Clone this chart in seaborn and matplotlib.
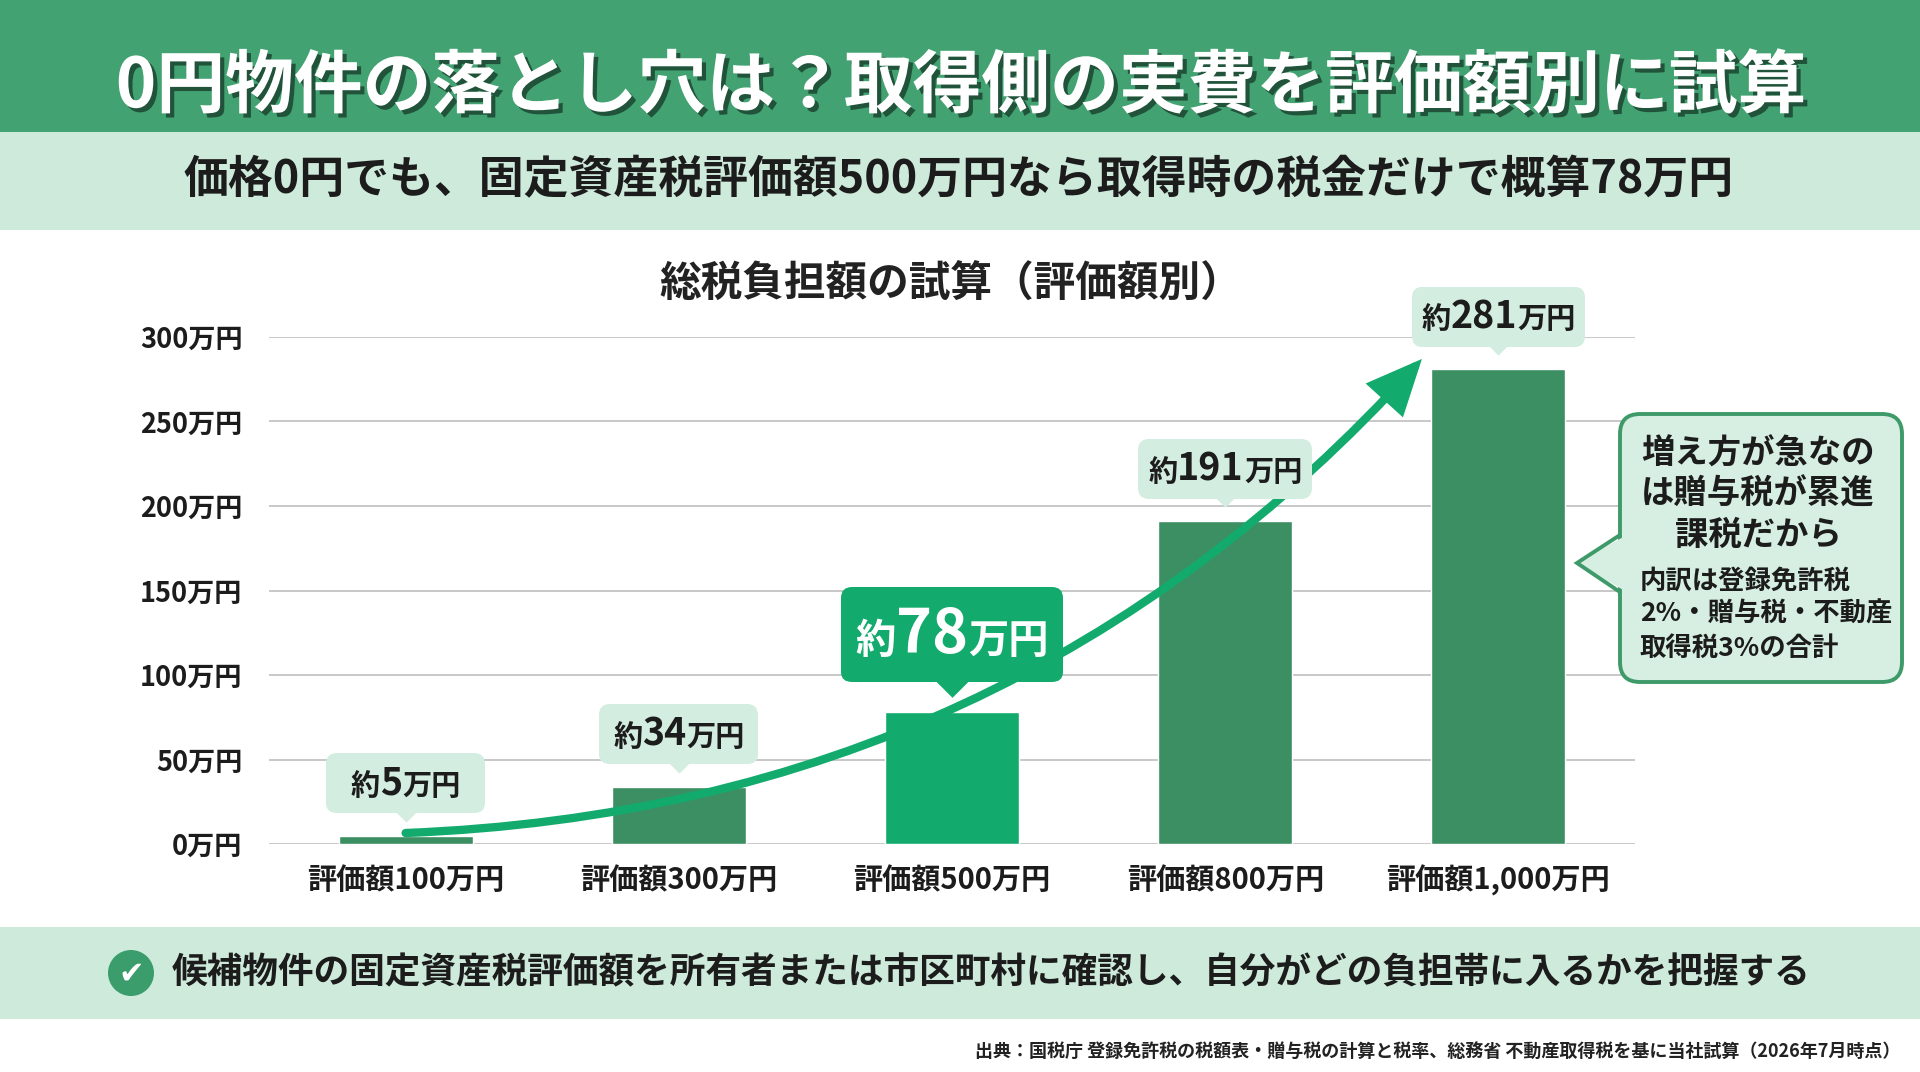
import numpy as np
import pandas as pd
import matplotlib
matplotlib.use('Agg')
import matplotlib.pyplot as plt
import seaborn as sns
from matplotlib.patches import FancyBboxPatch, Rectangle, Polygon, Circle, FancyArrowPatch
from matplotlib.offsetbox import TextArea, HPacker, VPacker, AnnotationBbox, DrawingArea
from matplotlib.transforms import offset_copy
import matplotlib.patheffects as pe

# ---------------- data ----------------
categories = ['評価額100万円', '評価額300万円', '評価額500万円', '評価額800万円', '評価額1,000万円']
values = [5, 34, 78, 191, 281]
value_labels = ['5', '34', '78', '191', '281']
highlight_index = 2
yticks = [0, 50, 100, 150, 200, 250, 300]
ytick_labels = ['0万円', '50万円', '100万円', '150万円', '200万円', '250万円', '300万円']

title = '0円物件の落とし穴は？取得側の実費を評価額別に試算'
subtitle = '価格0円でも、固定資産税評価額500万円なら取得時の税金だけで概算78万円'
chart_title = '総税負担額の試算（評価額別）'
callout_head = ['増え方が急なの', 'は贈与税が累進', '課税だから']
callout_body = ['内訳は登録免許税', '2%・贈与税・不動産', '取得税3%の合計']
action_text = '候補物件の固定資産税評価額を所有者または市区町村に確認し、自分がどの負担帯に入るかを把握する'
source_text = '出典：国税庁 登録免許税の税額表・贈与税の計算と税率、総務省 不動産取得税を基に当社試算（2026年7月時点）'

# ---------------- style ----------------
DARK = '#3c8f62'
BRIGHT = '#13ab6d'
MINT = '#d3ede0'
BAND = '#43a272'
LBAND = '#cdeadb'
BORDER = '#3f9a69'
TXT = '#1c1c1c'

sns.set_theme(style='white')
plt.rcParams['font.family'] = ['Noto Sans CJK JP', 'DejaVu Sans']

fig = plt.figure(figsize=(19.2, 10.72), dpi=100)
fig.patch.set_facecolor('white')

# background layer in pixel coordinates
bg = fig.add_axes([0, 0, 1, 1], zorder=0)
bg.set_xlim(0, 1920)
bg.set_ylim(1072, 0)
bg.axis('off')
bg.add_patch(Rectangle((0, 0), 1920, 132, color=BAND, lw=0))
bg.add_patch(Rectangle((0, 132), 1920, 98, color=LBAND, lw=0))
bg.add_patch(Rectangle((0, 927), 1920, 92, color=LBAND, lw=0))

bg.text(961, 87, title, ha='center', va='center', fontsize=49.5, weight='bold', color='white',
        path_effects=[pe.SimplePatchShadow(offset=(3, -3), shadow_rgbFace='#1a4630', alpha=0.85), pe.Normal()])
bg.text(959, 180, subtitle, ha='center', va='center', fontsize=32.3, weight='bold', color=TXT)
bg.text(951, 284, chart_title, ha='center', va='center', fontsize=30, weight='bold', color='#222222')

# check icon + action text
bg.add_patch(Circle((131, 973), 23, color='#3a9d6b', lw=0))
bg.text(131, 974, '✔', ha='center', va='center', fontsize=22, color='white', family='DejaVu Sans')
bg.text(172, 973, action_text, ha='left', va='center', fontsize=25.7, weight='bold', color=TXT)
bg.text(1900, 1051, source_text, ha='right', va='center', fontsize=13, weight='bold', color='#222222')

# ---------------- chart ----------------
ax = fig.add_axes([269 / 1920, 1 - 844 / 1072, (1635 - 269) / 1920, (844 - 337) / 1072], zorder=1)
ax.patch.set_alpha(0)
df = pd.DataFrame({'cat': categories, 'val': values})
palette = [BRIGHT if i == highlight_index else DARK for i in range(len(categories))]
sns.barplot(data=df, x='cat', y='val', hue='cat', palette=palette, legend=False,
            width=0.49, saturation=1, ax=ax, zorder=2)
ax.set_xlim(-0.5, len(categories) - 0.5)
ax.set_ylim(0, 300)
ax.set_yticks(yticks)
ax.set_yticklabels(ytick_labels)
ax.set_xlabel('')
ax.set_ylabel('')
for s in ax.spines.values():
    s.set_visible(False)
ax.yaxis.grid(True, color='#c8c8c8', lw=1.4)
ax.xaxis.grid(False)
ax.set_axisbelow(True)
ax.tick_params(axis='y', length=0, pad=19, labelsize=19.5, labelcolor=TXT)
ax.tick_params(axis='x', length=0, pad=15, labelsize=21, labelcolor=TXT)
for lab in ax.get_yticklabels() + ax.get_xticklabels():
    lab.set_fontweight('bold')

# trend arrow
arrow = FancyArrowPatch(posA=(0, 6.5), posB=(3.72, 287), transform=ax.transData,
                        connectionstyle='arc3,rad=0.21',
                        arrowstyle='-|>,head_length=3.0,head_width=1.35',
                        mutation_scale=10, color=BRIGHT, lw=6, shrinkA=0, shrinkB=0,
                        zorder=4, clip_on=False, joinstyle='miter', capstyle='round')
ax.add_patch(arrow)

# value labels (box width: at least a minimum, otherwise text + small padding)
renderer = fig.canvas.get_renderer()
pt2px = renderer.points_to_pixels(1.0)
for i, (v, lab) in enumerate(zip(values, value_labels)):
    hl = (i == highlight_index)
    if hl:
        small, big, col, fc, gap, ms, vsp, min_w, min_pad = 29, 44, 'white', BRIGHT, 22.5, 25, 11, 0, 9.5
    else:
        small, big, col, fc, gap, ms, vsp, min_w, min_pad = 21, 27, TXT, MINT, 17, 16, 6.5, 112, 6
    parts = [TextArea('約', textprops=dict(fontsize=small, weight='bold', color=col)),
             TextArea(lab, textprops=dict(fontsize=big, weight='bold', color=col)),
             TextArea('万円', textprops=dict(fontsize=small, weight='bold', color=col))]
    inner = HPacker(children=parts, align='baseline', pad=0, sep=0)
    inner.set_figure(fig)
    text_w = inner.get_bbox(renderer).width / pt2px
    hsp = max((min_w - text_w) / 2.0, min_pad)
    row = HPacker(children=[DrawingArea(hsp, 1), inner, DrawingArea(hsp, 1)],
                  align='center', pad=0, sep=0)
    box = VPacker(children=[DrawingArea(1, vsp), row, DrawingArea(1, vsp)],
                  align='center', pad=0, sep=0)
    ab = AnnotationBbox(box, xy=(i, v), xycoords='data', xybox=(0, gap), boxcoords='offset points',
                        box_alignment=(0.5, 0), frameon=True, pad=0,
                        bboxprops=dict(boxstyle='round,pad=0.1,rounding_size=0.7', fc=fc, ec='none'),
                        zorder=6, annotation_clip=False)
    ax.add_artist(ab)
    tr = offset_copy(ax.transData, fig=fig, x=0, y=gap + 1, units='points')
    ax.plot([i], [v], marker=[(-1, 0), (1, 0), (0, -1)], ms=ms, color=fc, mec='none',
            transform=tr, clip_on=False, zorder=6)

# ---------------- callout (top layer) ----------------
fg = fig.add_axes([0, 0, 1, 1], zorder=3)
fg.set_xlim(0, 1920)
fg.set_ylim(1072, 0)
fg.axis('off')
fg.patch.set_alpha(0)
fg.add_patch(FancyBboxPatch((1620, 414), 282, 268, boxstyle='round,pad=0,rounding_size=20',
                            fc='#d6efe2', ec=BORDER, lw=2.8))
fg.add_patch(Polygon([(1625, 536), (1577, 563), (1625, 591)], closed=True, fc='#d6efe2', ec='none'))
fg.plot([1620, 1577, 1620], [535, 563, 592], color=BORDER, lw=2.8, solid_joinstyle='miter',
        solid_capstyle='butt')
for k, line in enumerate(callout_head):
    fg.text(1758, 454 + 40.5 * k, line, ha='center', va='center', fontsize=24, weight='bold', color=TXT)
for k, line in enumerate(callout_body):
    fg.text(1640, 581 + 33.5 * k, line, ha='left', va='center', fontsize=19, weight='bold', color=TXT)

fig.savefig('out.png', dpi=100, facecolor='white')
